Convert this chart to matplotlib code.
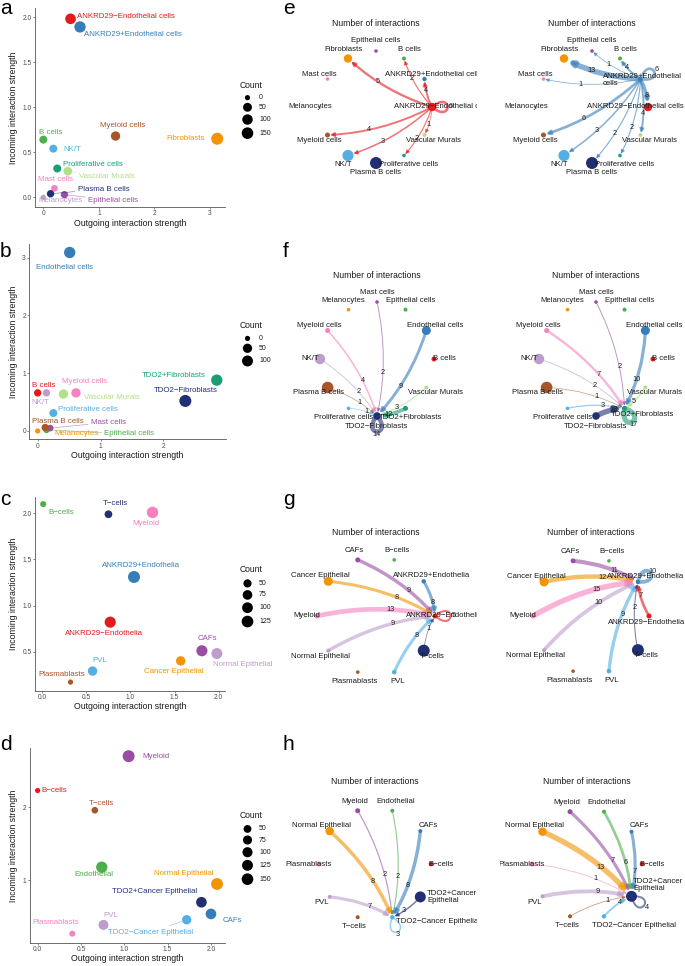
import numpy as np
import matplotlib
matplotlib.use("Agg")
import matplotlib.pyplot as plt
from matplotlib.patches import FancyArrowPatch, PathPatch
from matplotlib.path import Path

plt.rcParams['font.family'] = ['Liberation Sans', 'DejaVu Sans']

W, H = 685, 966
PX = 0.72  # points per pixel at 100 dpi

PAL = ['#E41A1C', '#377EB8', '#4DAF4A', '#984EA3', '#F29403', '#F781BF',
       '#BC9DCC', '#A65628', '#54B0E4', '#222F75', '#1B9E77', '#B2DF8A']

# ---------------- data: dataset 1 (a / e) ----------------
cells1 = ['ANKRD29−Endothelial cells', 'ANKRD29+Endothelial cells', 'B cells', 'Epithelial cells',
          'Fibroblasts', 'Mast cells', 'Melanocytes', 'Myeloid cells', 'NK/T', 'Plasma B cells',
          'Proliferative cells', 'Vascular Murals']
out1 = [0.49, 0.66, 0.00, 0.38, 3.13, 0.20, 0.00, 1.30, 0.18, 0.13, 0.25, 0.44]
in1 = [1.98, 1.89, 0.64, 0.03, 0.65, 0.10, 0.00, 0.68, 0.54, 0.04, 0.32, 0.29]
count1 = [110, 139, 29, 17, 170, 8, 0, 63, 29, 17, 29, 44]
breaks1 = [0, 50, 100, 150]
group1 = [4.2, 2.2, 2.0, 1.8, 4.2, 1.8, 1.5, 2.5, 5.6, 6.0, 1.8, 2.0]
edges1_left = [('ANKRD29−Endothelial cells', 'Fibroblasts', 5), ('ANKRD29−Endothelial cells', 'B cells', 2),
               ('ANKRD29−Endothelial cells', 'ANKRD29+Endothelial cells', 4),
               ('ANKRD29−Endothelial cells', 'Myeloid cells', 4), ('ANKRD29−Endothelial cells', 'NK/T', 3),
               ('ANKRD29−Endothelial cells', 'Proliferative cells', 2),
               ('ANKRD29−Endothelial cells', 'Vascular Murals', 1),
               ('ANKRD29−Endothelial cells', 'ANKRD29−Endothelial cells', 6)]
edges1_right = [('ANKRD29+Endothelial cells', 'Fibroblasts', 13), ('ANKRD29+Endothelial cells', 'Epithelial cells', 1),
                ('ANKRD29+Endothelial cells', 'B cells', 4), ('ANKRD29+Endothelial cells', 'Mast cells', 1),
                ('ANKRD29+Endothelial cells', 'Myeloid cells', 6), ('ANKRD29+Endothelial cells', 'NK/T', 3),
                ('ANKRD29+Endothelial cells', 'Plasma B cells', 2),
                ('ANKRD29+Endothelial cells', 'Proliferative cells', 2),
                ('ANKRD29+Endothelial cells', 'Vascular Murals', 4),
                ('ANKRD29+Endothelial cells', 'ANKRD29−Endothelial cells', 8),
                ('ANKRD29+Endothelial cells', 'ANKRD29+Endothelial cells', 6)]

# ---------------- data: dataset 2 (b / f) ----------------
cells2 = ['B cells', 'Endothelial cells', 'Epithelial cells', 'Mast cells', 'Melanocytes', 'Myeloid cells',
          'NK/T', 'Plasma B cells', 'Proliferative cells', 'TDO2−Fibroblasts', 'TDO2+Fibroblasts',
          'Vascular Murals']
out2 = [0.00, 0.51, 0.14, 0.20, 0.00, 0.61, 0.14, 0.12, 0.25, 2.35, 2.85, 0.41]
in2 = [0.66, 3.09, 0.02, 0.05, 0.00, 0.66, 0.66, 0.06, 0.31, 0.52, 0.88, 0.64]
count2 = [14, 114, 6, 6, 0, 52, 14, 14, 24, 140, 114, 52]
breaks2 = [0, 50, 100]
group2 = [2.5, 4.5, 2.0, 1.8, 1.8, 2.5, 5.2, 5.8, 1.8, 3.8, 2.5, 2.0]
edges2_left = [('Mast cells', 'TDO2−Fibroblasts', 2), ('Myeloid cells', 'TDO2−Fibroblasts', 4),
               ('NK/T', 'TDO2−Fibroblasts', 2), ('Plasma B cells', 'TDO2−Fibroblasts', 1),
               ('Proliferative cells', 'TDO2−Fibroblasts', 1), ('Endothelial cells', 'TDO2−Fibroblasts', 9),
               ('Vascular Murals', 'TDO2−Fibroblasts', 3), ('TDO2+Fibroblasts', 'TDO2−Fibroblasts', 12),
               ('TDO2−Fibroblasts', 'TDO2−Fibroblasts', 14)]
edges2_right = [('Mast cells', 'TDO2+Fibroblasts', 2), ('Myeloid cells', 'TDO2+Fibroblasts', 7),
                ('NK/T', 'TDO2+Fibroblasts', 2), ('Plasma B cells', 'TDO2+Fibroblasts', 1),
                ('Proliferative cells', 'TDO2+Fibroblasts', 3), ('TDO2−Fibroblasts', 'TDO2+Fibroblasts', 18),
                ('Endothelial cells', 'TDO2+Fibroblasts', 10), ('Vascular Murals', 'TDO2+Fibroblasts', 5),
                ('TDO2+Fibroblasts', 'TDO2+Fibroblasts', 17)]

# ---------------- data: dataset 3 (c / g) ----------------
cells3 = ['ANKRD29−Endothelia', 'ANKRD29+Endothelia', 'B−cells', 'CAFs', 'Cancer Epithelial', 'Myeloid',
          'Normal Epithelial', 'Plasmablasts', 'PVL', 'T−cells']
out3 = [0.77, 1.04, 0.01, 1.81, 1.57, 1.25, 1.98, 0.32, 0.57, 0.75]
in3 = [0.82, 1.31, 2.10, 0.51, 0.40, 2.01, 0.48, 0.17, 0.29, 1.99]
count3 = [110, 135, 32, 110, 70, 120, 105, 30, 70, 45]
breaks3 = [50, 75, 100, 125]
group3 = [2.5, 2.2, 1.8, 2.5, 4.5, 2.5, 2.0, 1.8, 2.3, 6.0]
edges3_left = [('CAFs', 'ANKRD29−Endothelia', 9), ('Cancer Epithelial', 'ANKRD29−Endothelia', 8),
               ('Myeloid', 'ANKRD29−Endothelia', 13), ('Normal Epithelial', 'ANKRD29−Endothelia', 9),
               ('PVL', 'ANKRD29−Endothelia', 8), ('ANKRD29+Endothelia', 'ANKRD29−Endothelia', 8),
               ('T−cells', 'ANKRD29−Endothelia', 1), ('ANKRD29−Endothelia', 'ANKRD29−Endothelia', 5)]
edges3_right = [('CAFs', 'ANKRD29+Endothelia', 11), ('Cancer Epithelial', 'ANKRD29+Endothelia', 12),
                ('Myeloid', 'ANKRD29+Endothelia', 15), ('Normal Epithelial', 'ANKRD29+Endothelia', 10),
                ('PVL', 'ANKRD29+Endothelia', 9), ('T−cells', 'ANKRD29+Endothelia', 2),
                ('ANKRD29−Endothelia', 'ANKRD29+Endothelia', 7), ('ANKRD29+Endothelia', 'ANKRD29+Endothelia', 10)]

# ---------------- data: dataset 4 (d / h) ----------------
cells4 = ['B−cells', 'CAFs', 'Endothelial', 'Myeloid', 'Normal Epithelial', 'Plasmablasts', 'PVL', 'T−cells',
          'TDO2−Cancer Epithelial', 'TDO2+Cancer Epithelial']
out4 = [0.00, 2.00, 0.74, 1.05, 2.07, 0.40, 0.76, 0.66, 1.72, 1.89]
in4 = [2.23, 0.54, 1.18, 2.70, 0.95, 0.27, 0.39, 1.96, 0.46, 0.70]
count4 = [30, 117, 140, 165, 160, 32, 97, 36, 80, 117]
breaks4 = [50, 75, 100, 125, 150]
group4 = [2.3, 2.0, 2.0, 2.5, 4.2, 2.5, 2.0, 2.0, 2.2, 5.5]
edges4_left = [('Myeloid', 'TDO2−Cancer Epithelial', 2), ('Endothelial', 'TDO2−Cancer Epithelial', 2),
               ('CAFs', 'TDO2−Cancer Epithelial', 8), ('Normal Epithelial', 'TDO2−Cancer Epithelial', 8),
               ('PVL', 'TDO2−Cancer Epithelial', 7), ('TDO2+Cancer Epithelial', 'TDO2−Cancer Epithelial', 3),
               ('TDO2−Cancer Epithelial', 'TDO2−Cancer Epithelial', 3)]
edges4_right = [('Myeloid', 'TDO2+Cancer Epithelial', 7), ('Endothelial', 'TDO2+Cancer Epithelial', 6),
                ('CAFs', 'TDO2+Cancer Epithelial', 7), ('Normal Epithelial', 'TDO2+Cancer Epithelial', 13),
                ('Plasmablasts', 'TDO2+Cancer Epithelial', 1), ('PVL', 'TDO2+Cancer Epithelial', 9),
                ('T−cells', 'TDO2+Cancer Epithelial', 1), ('TDO2−Cancer Epithelial', 'TDO2+Cancer Epithelial', 4),
                ('TDO2+Cancer Epithelial', 'TDO2+Cancer Epithelial', 4)]

# ---------------- figure ----------------
fig = plt.figure(figsize=(W / 100, H / 100), dpi=100)


def px_axes(x0, y0, x1, y1, off=True):
    ax = fig.add_axes([x0 / W, 1 - y1 / H, (x1 - x0) / W, (y1 - y0) / H])
    ax.set_xlim(x0, x1)
    ax.set_ylim(y1, y0)
    if off:
        ax.axis('off')
    return ax


overlay = px_axes(0, 0, W, H)

R_MIN, R_MAX = 2.6, 6.0


def radius_of(c, cmin, cmax):
    f = np.clip((np.asarray(c, float) - cmin) / (cmax - cmin), 0, 1)
    return R_MIN + (R_MAX - R_MIN) * np.sqrt(f)


# label offsets for scatter panels: (dx px, dy px (down), ha, segment)
lab_a = {'ANKRD29−Endothelial cells': (6.6, -2.3, 'left', False),
         'ANKRD29+Endothelial cells': (4, 7.6, 'left', False),
         'B cells': (7, -6.7, 'center', False),
         'Epithelial cells': (24, 5.7, 'left', True),
         'Fibroblasts': (-12, 0, 'right', False),
         'Mast cells': (1, -9, 'center', False),
         'Melanocytes': (16.7, 2.7, 'center', False),
         'Myeloid cells': (7, -11, 'center', False),
         'NK/T': (10, 1, 'left', False),
         'Plasma B cells': (27, -4.7, 'left', True),
         'Proliferative cells': (5.4, -3.6, 'left', False),
         'Vascular Murals': (11.3, 5.7, 'left', True)}
lab_b = {'B cells': (6, -7, 'center', False),
         'Endothelial cells': (-5.7, 15.3, 'center', False),
         'Epithelial cells': (58, 4, 'left', True),
         'Mast cells': (40.7, -5.7, 'left', True),
         'Melanocytes': (16.7, 3, 'left', False),
         'Myeloid cells': (8.5, -11.3, 'center', False),
         'NK/T': (-5.7, 10, 'center', False),
         'Plasma B cells': (13, -6.3, 'center', False),
         'Proliferative cells': (4.3, -4, 'left', False),
         'TDO2−Fibroblasts': (0.7, -10.3, 'center', False),
         'TDO2+Fibroblasts': (-11.3, -4.6, 'right', False),
         'Vascular Murals': (21, 3, 'left', False)}
lab_c = {'ANKRD29−Endothelia': (-6.3, 11.3, 'center', False),
         'ANKRD29+Endothelia': (7, -11.4, 'center', False),
         'B−cells': (5.4, 8.7, 'left', False),
         'CAFs': (5.7, -12, 'center', False),
         'Cancer Epithelial': (-7, 11, 'center', False),
         'Myeloid': (-7, 11.3, 'center', False),
         'Normal Epithelial': (25.7, 11.3, 'center', False),
         'Plasmablasts': (-9.3, -7.3, 'center', False),
         'PVL': (7.3, -10.3, 'center', False),
         'T−cells': (6.6, -10.6, 'center', False)}
lab_d = {'B−cells': (4, 0, 'left', False),
         'CAFs': (11.3, 7, 'left', False),
         'Endothelial': (-7.4, 7.7, 'center', False),
         'Myeloid': (13.4, 0, 'left', False),
         'Normal Epithelial': (-33.7, -10, 'center', False),
         'Plasmablasts': (-16.3, -11.6, 'center', False),
         'PVL': (7.3, -9.7, 'center', False),
         'T−cells': (6.7, -6.7, 'center', False),
         'TDO2−Cancer Epithelial': (-36, 12.4, 'center', True),
         'TDO2+Cancer Epithelial': (-46.6, -11, 'center', False)}


def scatter_panel(names, xv, yv, counts, breaks, box, xlim, ylim, xticks, xtl, yticks, ytl, labels):
    x0, y0, x1, y1 = box
    ax = fig.add_axes([x0 / W, 1 - y1 / H, (x1 - x0) / W, (y1 - y0) / H])
    ax.patch.set_alpha(0)
    cmin, cmax = min(counts), max(counts)
    r = radius_of(counts, cmin, cmax)
    cols = [PAL[i] for i in range(len(names))]
    ax.scatter(xv, yv, s=(2 * r * PX) ** 2, c=cols, linewidths=0, zorder=3, clip_on=False)
    ax.set_xlim(*xlim)
    ax.set_ylim(*ylim)
    for s in ['top', 'right']:
        ax.spines[s].set_visible(False)
    for s in ['left', 'bottom']:
        ax.spines[s].set_color('#555555')
        ax.spines[s].set_linewidth(0.6)
    ax.set_xticks(xticks)
    ax.set_xticklabels(xtl)
    ax.set_yticks(yticks)
    ax.set_yticklabels(ytl)
    ax.tick_params(axis='both', length=2 * PX, width=0.5, color='#555555', labelsize=4.8,
                   labelcolor='#4D4D4D', pad=1)
    for i, nm in enumerate(names):
        dx, dy, ha, seg = labels[nm]
        kw = {}
        if seg:
            kw['arrowprops'] = dict(arrowstyle='-', color=cols[i], lw=0.4, alpha=0.7,
                                    shrinkA=0, shrinkB=r[i] * PX)
        ax.annotate(nm, (xv[i], yv[i]), xytext=(dx, -dy), textcoords='offset pixels',
                    ha=ha, va='center', fontsize=5.7, color=cols[i], zorder=4,
                    annotation_clip=False, **kw)
    xc = (x0 + x1) / 2
    overlay.text(xc, y1 + 16, 'Outgoing interaction strength', ha='center', va='center',
                 fontsize=6.3, color='#1a1a1a')
    overlay.text(14, (y0 + y1) / 2, 'Incoming interaction strength', ha='center', va='center',
                 rotation=90, fontsize=6.3, color='#1a1a1a')
    # size legend
    rb = radius_of(breaks, cmin, cmax)
    ys = [0.0]
    for k in range(1, len(rb)):
        ys.append(ys[-1] + rb[k - 1] + rb[k] + 2.6)
    ys = np.array(ys) + 10 + rb[0]
    total = ys[-1] + rb[-1] + 5
    top = (y0 + y1) / 2 + 2 - total / 2 + 5
    overlay.text(240, top, 'Count', ha='left', va='center', fontsize=6.2, color='#1a1a1a')
    overlay.scatter(np.full(len(rb), 247.5), top + ys, s=(2 * rb * PX) ** 2, c='black', linewidths=0)
    for yy, b in zip(top + ys, breaks):
        overlay.text(259, yy, str(b), ha='left', va='center', fontsize=5, color='#1a1a1a')
    return ax


scatter_panel(cells1, out1, in1, count1, breaks1, (35, 8, 225, 207), (-0.15, 3.27), (-0.107, 2.10),
              [0, 1, 2, 3], ['0', '1', '2', '3'], [0, 0.5, 1, 1.5, 2], ['0.0', '0.5', '1.0', '1.5', '2.0'], lab_a)
scatter_panel(cells2, out2, in2, count2, breaks2, (29.3, 244, 226, 439.3), (-0.133, 2.997), (-0.144, 3.237),
              [0, 1, 2], ['0', '1', '2'], [0, 1, 2, 3], ['0', '1', '2', '3'], lab_b)
scatter_panel(cells3, out3, in3, count3, breaks3, (35, 497, 225, 690.7), (-0.083, 2.072), (0.077, 2.177),
              [0, 0.5, 1, 1.5, 2], ['0.0', '0.5', '1.0', '1.5', '2.0'], [0.5, 1, 1.5, 2],
              ['0.5', '1.0', '1.5', '2.0'], lab_c)
scatter_panel(cells4, out4, in4, count4, breaks4, (30, 748.3, 225, 942.7), (-0.088, 2.162), (0.146, 2.808),
              [0, 0.5, 1, 1.5, 2], ['0.0', '0.5', '1.0', '1.5', '2.0'], [1, 2], ['1', '2'], lab_d)

# ---------------- network panels ----------------
RAD = -0.11
LABEL_D = 10.0

over_e_right = {'ANKRD29+Endothelial cells': (-38, 1, 'left', 'ANKRD29+Endothelial\ncells'),
                'ANKRD29−Endothelial cells': (-13, 0, 'center', None)}
over_f_right = {'TDO2+Fibroblasts': (18, 6, 'center', None)}
over_g_right = {'ANKRD29−Endothelia': (-2, 7, 'center', None)}
over_h_left = {'TDO2−Cancer Epithelial': (3.4, 4, 'left', None),
               'TDO2+Cancer Epithelial': (7, 0, 'left', 'TDO2+Cancer\nEpithelial')}
over_h_right = {'TDO2+Cancer Epithelial': (1.5, -11, 'left', 'TDO2+Cancer\nEpithelial'),
                'TDO2−Cancer Epithelial': (30, 9, 'center', None)}


def network(box, names, sizes, center, radius, edges, wmax, overrides):
    ax = px_axes(*box)
    n = len(names)
    idx = {nm: i for i, nm in enumerate(names)}
    ang = np.deg2rad(np.arange(n) * 360.0 / n)
    cx, cy = center
    xs = cx + radius * np.cos(ang)
    ys = cy - radius * np.sin(ang)
    for s_nm, t_nm, w in edges:
        s, t = idx[s_nm], idx[t_nm]
        col = PAL[s]
        lw = (0.4 + 5.0 * w / wmax) * PX
        if s == t:
            u = np.array([xs[s] - cx, ys[s] - cy]) / radius
            v = np.array([-u[1], u[0]])
            L, th = 27.0, np.deg2rad(40)
            p0 = np.array([xs[s], ys[s]])
            p1 = p0 + L * (np.cos(th) * u + np.sin(th) * v)
            p2 = p0 + L * (np.cos(th) * u - np.sin(th) * v)
            path = Path([p0, p1, p2, p0], [Path.MOVETO, Path.CURVE4, Path.CURVE4, Path.CURVE4])
            ax.add_patch(PathPatch(path, facecolor='none', edgecolor=col, lw=lw, alpha=0.6, zorder=2))
            lp = p0 + (0.75 * L * np.cos(th) + 3) * u
            ax.text(lp[0], lp[1], str(w), ha='center', va='center', fontsize=5.3, color='#222222', zorder=5)
        else:
            p0 = np.array([xs[s], ys[s]])
            p2 = np.array([xs[t], ys[t]])
            arr = FancyArrowPatch(tuple(p0), tuple(p2), connectionstyle=f'arc3,rad={RAD}',
                                  arrowstyle='-|>,head_length=0.55,head_width=0.28', mutation_scale=4,
                                  lw=lw, color=col, alpha=0.6, shrinkA=sizes[s] * PX,
                                  shrinkB=sizes[t] * PX, zorder=2)
            ax.add_patch(arr)
            mid = (p0 + p2) / 2
            c = mid + RAD * np.array([-(p2[1] - p0[1]), (p2[0] - p0[0])])
            tt = 0.62
            lp = (1 - tt) ** 2 * p0 + 2 * tt * (1 - tt) * c + tt ** 2 * p2
            ax.text(lp[0], lp[1], str(w), ha='center', va='center', fontsize=5.3, color='#222222', zorder=5)
    ax.scatter(xs, ys, s=(2 * np.asarray(sizes) * PX) ** 2, c=[PAL[i] for i in range(n)],
               linewidths=0, zorder=3)
    for i, nm in enumerate(names):
        if nm in overrides:
            dx, dy, ha, txt = overrides[nm]
            txt = txt or nm
        else:
            dx = LABEL_D * np.cos(ang[i])
            dy = -LABEL_D * np.sin(ang[i])
            ha, txt = 'center', nm
        ax.text(xs[i] + dx, ys[i] + dy, txt, ha=ha, va='center', fontsize=5.6, color='#1a1a1a',
                clip_on=True, zorder=4, linespacing=1.05)
    ax.text(cx, cy - 83, 'Number of interactions', ha='center', va='center', fontsize=6.2,
            color='#1a1a1a', clip_on=False)
    return ax


LB = (280, 477)
RB = (500, 685)
wm1 = max(w for _, _, w in edges1_left + edges1_right)
wm2 = max(w for _, _, w in edges2_left + edges2_right)
wm3 = max(w for _, _, w in edges3_left + edges3_right)
wm4 = max(w for _, _, w in edges4_left + edges4_right)

network((LB[0], 0, LB[1], 240), cells1, group1, (376, 107), 56, edges1_left, wm1, {})
network((RB[0], 0, RB[1], 240), cells1, group1, (592, 107), 56, edges1_right, wm1, over_e_right)
network((LB[0], 240, LB[1], 480), cells2, group2, (377, 359), 57, edges2_left, wm2, {})
network((RB[0], 240, RB[1], 480), cells2, group2, (596, 359), 57, edges2_right, wm2, over_f_right)
network((LB[0], 480, LB[1], 720), cells3, group3, (376, 616), 59, edges3_left, wm3, {})
network((RB[0], 480, RB[1], 720), cells3, group3, (591, 616), 58, edges3_right, wm3, over_g_right)
network((LB[0], 720, LB[1], 966), cells4, group4, (375, 864), 56, edges4_left, wm4, over_h_left)
network((RB[0], 720, RB[1], 966), cells4, group4, (587, 864), 55, edges4_right, wm4, over_h_right)

# panel letters
for letter, x, y in [('a', 0, 14), ('b', 0, 257), ('c', 0, 505), ('d', 0, 750),
                     ('e', 283, 14), ('f', 283, 257), ('g', 283, 505), ('h', 283, 750)]:
    overlay.text(x, y, letter, ha='left', va='baseline', fontsize=15, color='black')

fig.savefig('out.png', dpi=100)
